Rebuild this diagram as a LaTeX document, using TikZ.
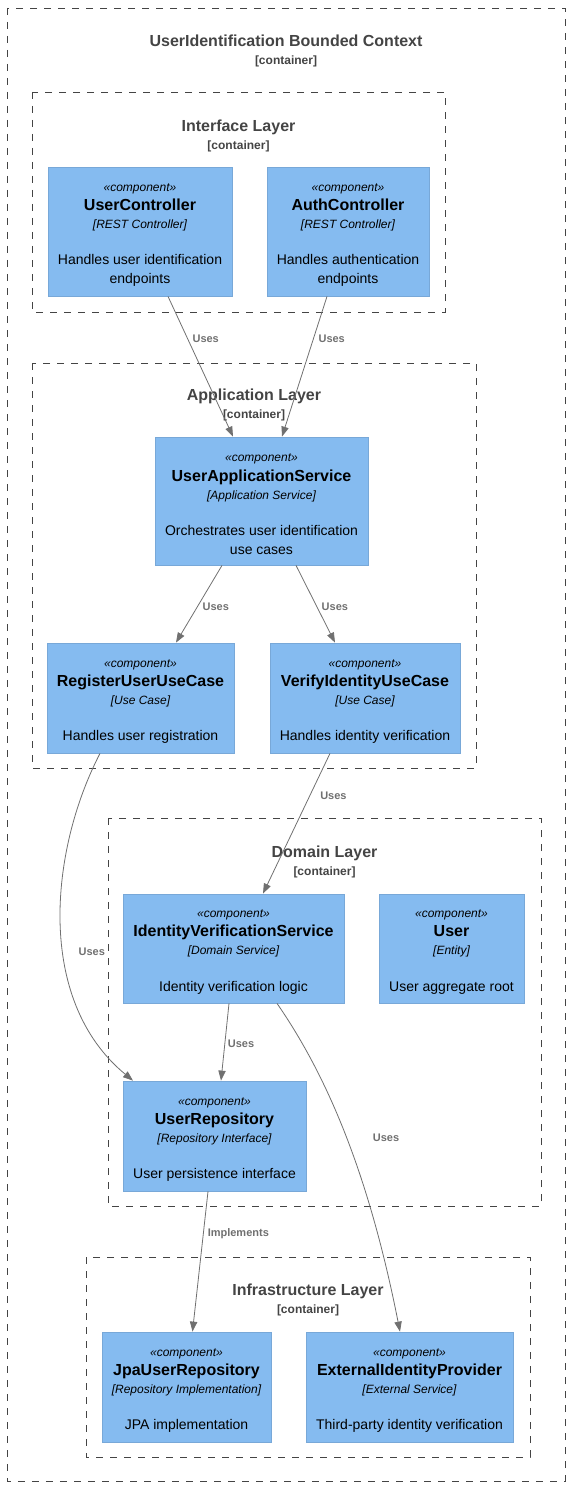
\documentclass[tikz,border=0pt]{standalone}
\usepackage{fontspec}
\setmainfont{Liberation Sans}
\usetikzlibrary{arrows.meta,calc}
\definecolor{compfill}{HTML}{85BBF0}
\definecolor{compline}{HTML}{78A8D8}
\definecolor{titlegray}{HTML}{444444}
\definecolor{relgray}{HTML}{707070}
\newcommand{\compstereo}{\fontsize{9pt}{11pt}\selectfont\itshape}
\newcommand{\compname}{\fontsize{12pt}{14pt}\selectfont\bfseries}
\newcommand{\comptype}{\fontsize{9pt}{11pt}\selectfont\itshape}
\newcommand{\bctag}{\fontsize{9pt}{11pt}\selectfont\bfseries}
\newcommand{\comptext}[3]{{\rule{0pt}{11pt}\compstereo «component»}\\[2pt]{\compname #1}\\[0.8pt]{\comptype [#2]}\\[15pt]#3}

\begin{document}
\begin{tikzpicture}[x=0.75pt,y=-0.75pt,
    boundary/.style={draw=titlegray, dash pattern=on 5.25pt off 5.25pt, line width=0.7pt},
    bctitle/.style={align=center, text=titlegray, font=\fontsize{12pt}{13.5pt}\selectfont\bfseries},
    component/.style={rectangle, draw=compline, fill=compfill, line width=0.6pt, align=center, inner sep=0pt, font=\fontsize{10.5pt}{12.5pt}\selectfont},
    boxsize/.style 2 args={minimum width=#1*0.75pt, minimum height=#2*0.75pt},
    uses/.style={-{Triangle[length=7.5pt,width=5.5pt]}, draw=relgray, line width=0.6pt},
    lbl/.style={anchor=west, inner sep=2pt, text=relgray, font=\fontsize{8.25pt}{9pt}\selectfont\bfseries}
  ]
    \useasboundingbox (0,0) rectangle (570,1487);

    % boundaries
    \draw[boundary] (7,8) rectangle (565,1481);
    \node[bctitle] (ctxtitle) at (286,50.5) {UserIdentification Bounded Context\\{\bctag[container]}};
    \draw[boundary] (32,92) rectangle (445,312);
    \node[bctitle] (ifacetitle) at (238.5,135.5) {Interface Layer\\{\bctag[container]}};
    \draw[boundary] (32,363) rectangle (476,768);
    \node[bctitle] (apptitle) at (254,404.5) {Application Layer\\{\bctag[container]}};
    \draw[boundary] (108,818) rectangle (541,1206);
    \node[bctitle] (domtitle) at (324.5,862) {Domain Layer\\{\bctag[container]}};
    \draw[boundary] (86,1257) rectangle (530,1457);
    \node[bctitle] (infratitle) at (308,1300) {Infrastructure Layer\\{\bctag[container]}};

    % components
    \node[component, boxsize={184}{129}] (uc) at (140,231.5) {\comptext{UserController}{REST Controller}{Handles user identification\\[1.7pt]endpoints}};
    \node[component, boxsize={162}{129}] (ac) at (348,231.5) {\comptext{AuthController}{REST Controller}{Handles authentication\\[1.7pt]endpoints}};
    \node[component, boxsize={213}{128}] (uas) at (261.5,501) {\comptext{UserApplicationService}{Application Service}{Orchestrates user identification\\[1.7pt]use cases}};
    \node[component, boxsize={187}{110}] (reg) at (140.5,698) {\comptext{RegisterUserUseCase}{Use Case}{Handles user registration}};
    \node[component, boxsize={190}{110}] (ver) at (365,698) {\comptext{VerifyIdentityUseCase}{Use Case}{Handles identity verification}};
    \node[component, boxsize={221}{109}] (ivs) at (233.5,948.5) {\comptext{IdentityVerificationService}{Domain Service}{Identity verification logic}};
    \node[component, boxsize={145}{109}] (usr) at (451.5,948.5) {\comptext{User}{Entity}{User aggregate root}};
    \node[component, boxsize={183}{110}] (repo) at (214.5,1136) {\comptext{UserRepository}{Repository Interface}{User persistence interface}};
    \node[component, boxsize={169}{110}] (jpa) at (186.5,1387) {\comptext{JpaUserRepository}{Repository Implementation}{JPA implementation}};
    \node[component, boxsize={207}{110}] (ext) at (409.5,1387) {\comptext{ExternalIdentityProvider}{External Service}{Third-party identity verification}};

    % relations
    \draw[uses] ($(uc.south)+(28,0)$) -- node[lbl, pos=0.3, xshift=1.5pt] {Uses} ($(uas.north)+(-28.5,0)$);
    \draw[uses] ($(ac.south)+(-21,0)$) -- node[lbl, pos=0.3, xshift=1.5pt] {Uses} ($(uas.north)+(20.5,0)$);
    \draw[uses] ($(uas.south)+(-39.5,0)$) -- node[lbl, pos=0.53, xshift=1.5pt] {Uses} ($(reg.north)+(35.5,0)$);
    \draw[uses] ($(uas.south)+(34.5,0)$) -- node[lbl, pos=0.53, xshift=1.5pt] {Uses} ($(ver.north)+(-30,0)$);
    \draw[uses] ($(reg.south)+(-40.5,0)$) .. controls (50,850) and (35,1000) .. node[lbl, pos=0.58, xshift=9pt] {Uses} ($(repo.north)+(-81.5,0)$);
    \draw[uses] ($(ver.south)+(-35,0)$) -- node[lbl, pos=0.3, xshift=5.5pt] {Uses} ($(ivs.north)+(29.5,0)$);
    \draw[uses] ($(ivs.south)+(-4.5,0)$) -- node[lbl, pos=0.52] {Uses} ($(repo.north)+(6.5,0)$);
    \draw[uses] ($(ivs.south)+(43.5,0)$) .. controls (330,1080) and (370,1180) .. node[lbl, pos=0.5, xshift=17pt, yshift=1pt] {Uses} ($(ext.north)+(-9.5,0)$);
    \draw[uses] ($(repo.south)+(-6.5,0)$) -- node[lbl, pos=0.3, xshift=1pt] {Implements} ($(jpa.north)+(6,0)$);
  \end{tikzpicture}
\end{document}
